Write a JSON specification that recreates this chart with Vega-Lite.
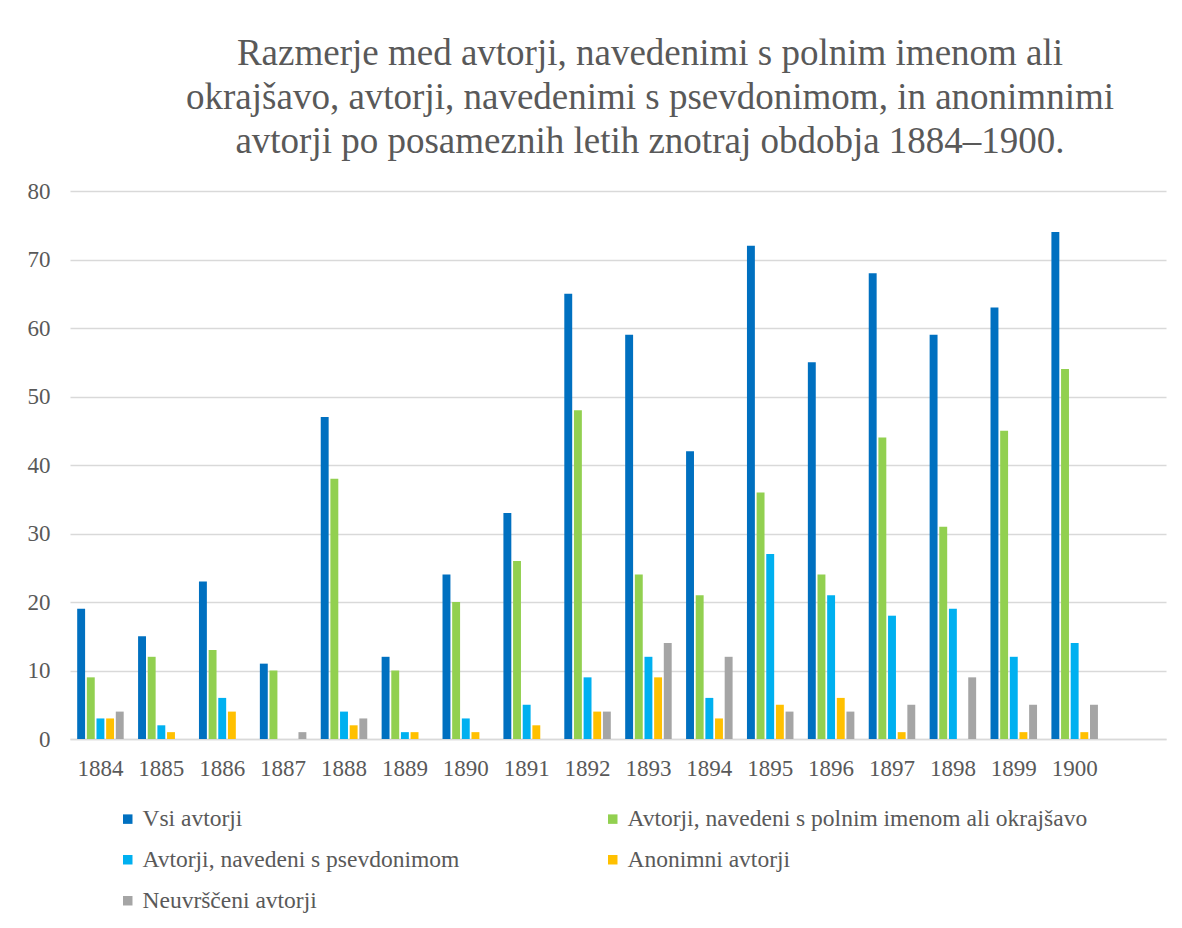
{
  "$schema": "https://vega.github.io/schema/vega-lite/v6.json",
  "autosize": {"type": "none"},
  "width": 1096,
  "height": 548,
  "padding": {"left": 70, "top": 191, "right": 16, "bottom": 189},
  "background": "white",
  "title": {
    "text": ["Razmerje med avtorji, navedenimi s polnim imenom ali", "okrajšavo, avtorji, navedenimi s psevdonimom, in anonimnimi", "avtorji po posameznih letih znotraj obdobja 1884–1900."],
    "font": "Times New Roman, Liberation Serif, serif",
    "fontSize": 37,
    "fontWeight": "normal",
    "color": "#595959",
    "lineHeight": 44,
    "anchor": "middle",
    "frame": "group",
    "dx": 32,
    "offset": 19
  },
  "data": {
    "values": [
      {"year": "1884", "series": "Vsi avtorji", "value": 19},
      {"year": "1884", "series": "Avtorji, navedeni s polnim imenom ali okrajšavo", "value": 9},
      {"year": "1884", "series": "Avtorji, navedeni s psevdonimom", "value": 3},
      {"year": "1884", "series": "Anonimni avtorji", "value": 3},
      {"year": "1884", "series": "Neuvrščeni avtorji", "value": 4},
      {"year": "1885", "series": "Vsi avtorji", "value": 15},
      {"year": "1885", "series": "Avtorji, navedeni s polnim imenom ali okrajšavo", "value": 12},
      {"year": "1885", "series": "Avtorji, navedeni s psevdonimom", "value": 2},
      {"year": "1885", "series": "Anonimni avtorji", "value": 1},
      {"year": "1885", "series": "Neuvrščeni avtorji", "value": 0},
      {"year": "1886", "series": "Vsi avtorji", "value": 23},
      {"year": "1886", "series": "Avtorji, navedeni s polnim imenom ali okrajšavo", "value": 13},
      {"year": "1886", "series": "Avtorji, navedeni s psevdonimom", "value": 6},
      {"year": "1886", "series": "Anonimni avtorji", "value": 4},
      {"year": "1886", "series": "Neuvrščeni avtorji", "value": 0},
      {"year": "1887", "series": "Vsi avtorji", "value": 11},
      {"year": "1887", "series": "Avtorji, navedeni s polnim imenom ali okrajšavo", "value": 10},
      {"year": "1887", "series": "Avtorji, navedeni s psevdonimom", "value": 0},
      {"year": "1887", "series": "Anonimni avtorji", "value": 0},
      {"year": "1887", "series": "Neuvrščeni avtorji", "value": 1},
      {"year": "1888", "series": "Vsi avtorji", "value": 47},
      {"year": "1888", "series": "Avtorji, navedeni s polnim imenom ali okrajšavo", "value": 38},
      {"year": "1888", "series": "Avtorji, navedeni s psevdonimom", "value": 4},
      {"year": "1888", "series": "Anonimni avtorji", "value": 2},
      {"year": "1888", "series": "Neuvrščeni avtorji", "value": 3},
      {"year": "1889", "series": "Vsi avtorji", "value": 12},
      {"year": "1889", "series": "Avtorji, navedeni s polnim imenom ali okrajšavo", "value": 10},
      {"year": "1889", "series": "Avtorji, navedeni s psevdonimom", "value": 1},
      {"year": "1889", "series": "Anonimni avtorji", "value": 1},
      {"year": "1889", "series": "Neuvrščeni avtorji", "value": 0},
      {"year": "1890", "series": "Vsi avtorji", "value": 24},
      {"year": "1890", "series": "Avtorji, navedeni s polnim imenom ali okrajšavo", "value": 20},
      {"year": "1890", "series": "Avtorji, navedeni s psevdonimom", "value": 3},
      {"year": "1890", "series": "Anonimni avtorji", "value": 1},
      {"year": "1890", "series": "Neuvrščeni avtorji", "value": 0},
      {"year": "1891", "series": "Vsi avtorji", "value": 33},
      {"year": "1891", "series": "Avtorji, navedeni s polnim imenom ali okrajšavo", "value": 26},
      {"year": "1891", "series": "Avtorji, navedeni s psevdonimom", "value": 5},
      {"year": "1891", "series": "Anonimni avtorji", "value": 2},
      {"year": "1891", "series": "Neuvrščeni avtorji", "value": 0},
      {"year": "1892", "series": "Vsi avtorji", "value": 65},
      {"year": "1892", "series": "Avtorji, navedeni s polnim imenom ali okrajšavo", "value": 48},
      {"year": "1892", "series": "Avtorji, navedeni s psevdonimom", "value": 9},
      {"year": "1892", "series": "Anonimni avtorji", "value": 4},
      {"year": "1892", "series": "Neuvrščeni avtorji", "value": 4},
      {"year": "1893", "series": "Vsi avtorji", "value": 59},
      {"year": "1893", "series": "Avtorji, navedeni s polnim imenom ali okrajšavo", "value": 24},
      {"year": "1893", "series": "Avtorji, navedeni s psevdonimom", "value": 12},
      {"year": "1893", "series": "Anonimni avtorji", "value": 9},
      {"year": "1893", "series": "Neuvrščeni avtorji", "value": 14},
      {"year": "1894", "series": "Vsi avtorji", "value": 42},
      {"year": "1894", "series": "Avtorji, navedeni s polnim imenom ali okrajšavo", "value": 21},
      {"year": "1894", "series": "Avtorji, navedeni s psevdonimom", "value": 6},
      {"year": "1894", "series": "Anonimni avtorji", "value": 3},
      {"year": "1894", "series": "Neuvrščeni avtorji", "value": 12},
      {"year": "1895", "series": "Vsi avtorji", "value": 72},
      {"year": "1895", "series": "Avtorji, navedeni s polnim imenom ali okrajšavo", "value": 36},
      {"year": "1895", "series": "Avtorji, navedeni s psevdonimom", "value": 27},
      {"year": "1895", "series": "Anonimni avtorji", "value": 5},
      {"year": "1895", "series": "Neuvrščeni avtorji", "value": 4},
      {"year": "1896", "series": "Vsi avtorji", "value": 55},
      {"year": "1896", "series": "Avtorji, navedeni s polnim imenom ali okrajšavo", "value": 24},
      {"year": "1896", "series": "Avtorji, navedeni s psevdonimom", "value": 21},
      {"year": "1896", "series": "Anonimni avtorji", "value": 6},
      {"year": "1896", "series": "Neuvrščeni avtorji", "value": 4},
      {"year": "1897", "series": "Vsi avtorji", "value": 68},
      {"year": "1897", "series": "Avtorji, navedeni s polnim imenom ali okrajšavo", "value": 44},
      {"year": "1897", "series": "Avtorji, navedeni s psevdonimom", "value": 18},
      {"year": "1897", "series": "Anonimni avtorji", "value": 1},
      {"year": "1897", "series": "Neuvrščeni avtorji", "value": 5},
      {"year": "1898", "series": "Vsi avtorji", "value": 59},
      {"year": "1898", "series": "Avtorji, navedeni s polnim imenom ali okrajšavo", "value": 31},
      {"year": "1898", "series": "Avtorji, navedeni s psevdonimom", "value": 19},
      {"year": "1898", "series": "Anonimni avtorji", "value": 0},
      {"year": "1898", "series": "Neuvrščeni avtorji", "value": 9},
      {"year": "1899", "series": "Vsi avtorji", "value": 63},
      {"year": "1899", "series": "Avtorji, navedeni s polnim imenom ali okrajšavo", "value": 45},
      {"year": "1899", "series": "Avtorji, navedeni s psevdonimom", "value": 12},
      {"year": "1899", "series": "Anonimni avtorji", "value": 1},
      {"year": "1899", "series": "Neuvrščeni avtorji", "value": 5},
      {"year": "1900", "series": "Vsi avtorji", "value": 74},
      {"year": "1900", "series": "Avtorji, navedeni s polnim imenom ali okrajšavo", "value": 54},
      {"year": "1900", "series": "Avtorji, navedeni s psevdonimom", "value": 14},
      {"year": "1900", "series": "Anonimni avtorji", "value": 1},
      {"year": "1900", "series": "Neuvrščeni avtorji", "value": 5}
    ]
  },
  "mark": {"type": "bar"},
  "encoding": {
    "x": {
      "field": "year",
      "type": "nominal",
      "scale": {
        "domain": ["1884","1885","1886","1887","1888","1889","1890","1891","1892","1893","1894","1895","1896","1897","1898","1899","1900","1901"],
        "paddingInner": 0.236,
        "paddingOuter": 0.118
      },
      "axis": {
        "title": null,
        "labelAngle": 0,
        "labelExpr": "datum.label == '1901' ? '' : datum.label",
        "labelFont": "Times New Roman, Liberation Serif, serif",
        "labelFontSize": 23,
        "labelColor": "#595959",
        "labelPadding": 18,
        "ticks": false,
        "domain": true,
        "domainColor": "#D9D9D9",
        "domainWidth": 1.5
      }
    },
    "xOffset": {
      "field": "series",
      "type": "nominal",
      "scale": {
        "domain": ["Vsi avtorji", "Avtorji, navedeni s polnim imenom ali okrajšavo", "Avtorji, navedeni s psevdonimom", "Anonimni avtorji", "Neuvrščeni avtorji"],
        "paddingInner": 0.18,
        "paddingOuter": 0
      }
    },
    "y": {
      "field": "value",
      "type": "quantitative",
      "scale": {"domain": [0, 80]},
      "axis": {
        "title": null,
        "values": [0, 10, 20, 30, 40, 50, 60, 70, 80],
        "labelFont": "Times New Roman, Liberation Serif, serif",
        "labelFontSize": 23,
        "labelColor": "#595959",
        "labelPadding": 20,
        "ticks": false,
        "domain": false,
        "grid": true,
        "gridColor": "#D9D9D9",
        "gridWidth": 1.5
      }
    },
    "color": {
      "field": "series",
      "type": "nominal",
      "scale": {
        "domain": ["Vsi avtorji", "Avtorji, navedeni s polnim imenom ali okrajšavo", "Avtorji, navedeni s psevdonimom", "Anonimni avtorji", "Neuvrščeni avtorji"],
        "range": ["#0070C0", "#92D050", "#00B0F0", "#FFC000", "#A5A5A5"]
      },
      "legend": {
        "title": null,
        "orient": "none",
        "legendX": 46,
        "legendY": 616,
        "direction": "horizontal",
        "columns": 2,
        "columnPadding": 141,
        "rowPadding": 16,
        "symbolType": "square",
        "symbolSize": 90,
        "symbolStrokeWidth": 0,
        "symbolOffset": 0,
        "labelOffset": 3,
        "labelFont": "Times New Roman, Liberation Serif, serif",
        "labelFontSize": 23.5,
        "labelColor": "#595959",
        "labelLimit": 600
      }
    }
  },
  "config": {
    "view": {"stroke": null}
  }
}
